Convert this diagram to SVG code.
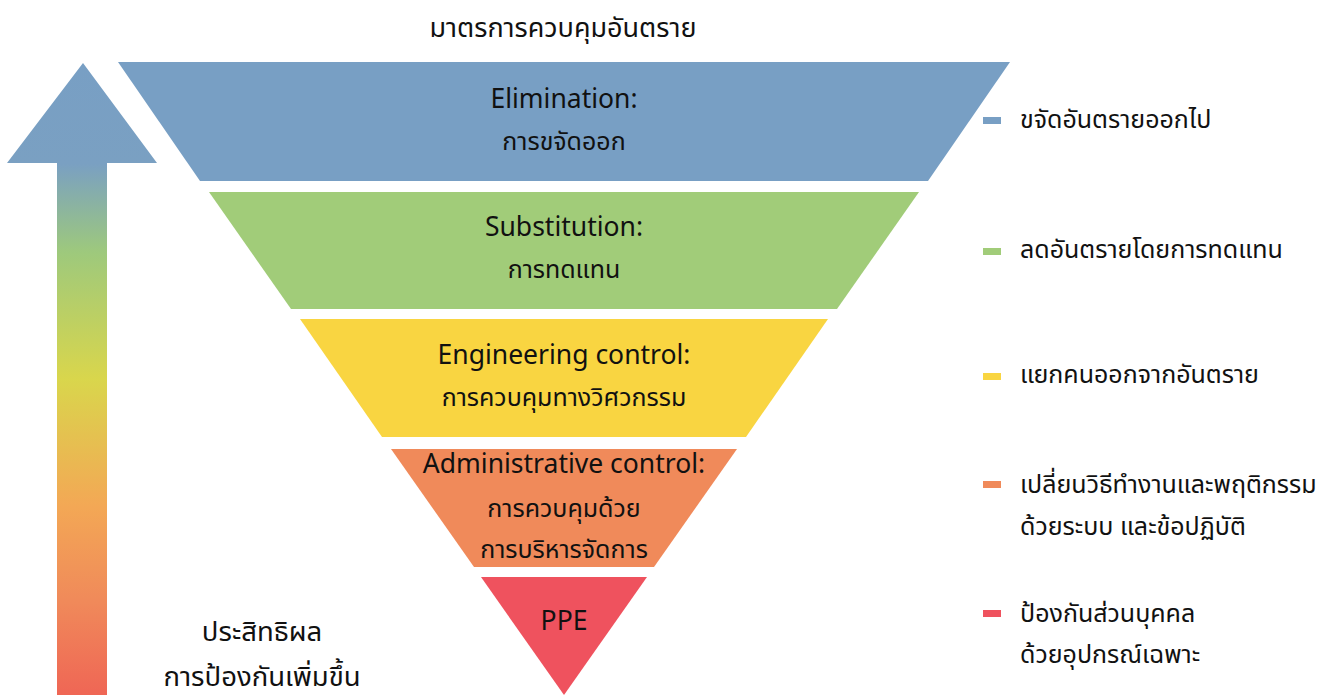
<svg xmlns="http://www.w3.org/2000/svg" width="1330" height="695" viewBox="0 0 1330 695">
  <style>
    text { font-family: "Noto Sans", "Noto Sans Thai", "Noto Sans CJK SC", sans-serif; fill: #111; }
    .lbl { font-size: 26.5px; text-anchor: middle; }
    .th { font-size: 25px; text-anchor: middle; }
    .eff { font-size: 27.5px; text-anchor: middle; }
    .leg { font-size: 25px; }
    .title { font-size: 27px; text-anchor: middle; }
  </style>
  <defs>
    <linearGradient id="arrowGrad" x1="0" y1="63" x2="0" y2="695" gradientUnits="userSpaceOnUse">
      <stop offset="0" stop-color="#789fc4"/>
      <stop offset="0.16" stop-color="#7aa0c2"/>
      <stop offset="0.30" stop-color="#9ec97c"/>
      <stop offset="0.50" stop-color="#d9d64c"/>
      <stop offset="0.70" stop-color="#f3a855"/>
      <stop offset="0.85" stop-color="#f08a5a"/>
      <stop offset="1" stop-color="#ef6655"/>
    </linearGradient>
  </defs>

  <rect width="1330" height="695" fill="#ffffff"/>

  <text class="title" x="563" y="37">มาตรการควบคุมอันตราย</text>

  <!-- effectiveness arrow -->
  <g id="arrow">
    <polygon points="83,63 157,163 107,163 107,695 57,695 57,163 7,163" fill="url(#arrowGrad)"/>
    <text class="eff" x="262" y="641">ประสิทธิผล</text>
    <text class="eff" x="262" y="686">การป้องกันเพิ่มขึ้น</text>
  </g>

  <!-- inverted pyramid tiers -->
  <g id="tier-elimination">
    <polygon points="118,62 1010,62 928,181 200,181" fill="#789fc4"/>
    <text class="lbl" x="564" y="108">Elimination:</text>
    <text class="th" x="564" y="150">การขจัดออก</text>
  </g>
  <g id="tier-substitution">
    <polygon points="209,192 919,192 837,309 291,309" fill="#a1cc79"/>
    <text class="lbl" x="564" y="236">Substitution:</text>
    <text class="th" x="564" y="278">การทดแทน</text>
  </g>
  <g id="tier-engineering">
    <polygon points="300,319 828,319 746,437 382,437" fill="#f9d541"/>
    <text class="lbl" x="564" y="364">Engineering control:</text>
    <text class="th" x="564" y="406">การควบคุมทางวิศวกรรม</text>
  </g>
  <g id="tier-administrative">
    <polygon points="391,449 737,449 654,567 474,567" fill="#f08a5a"/>
    <text class="lbl" x="564" y="473">Administrative control:</text>
    <text class="th" x="564" y="517">การควบคุมด้วย</text>
    <text class="th" x="564" y="558">การบริหารจัดการ</text>
  </g>
  <g id="tier-ppe">
    <polygon points="481,577 647,577 564,695" fill="#ef525e"/>
    <text class="lbl" x="564" y="630">PPE</text>
  </g>

  <!-- legend -->
  <g id="legend">
    <rect x="983" y="117" width="18" height="7" fill="#789fc4"/>
    <text class="leg" x="1020" y="128">ขจัดอันตรายออกไป</text>
    <rect x="983" y="248" width="18" height="7" fill="#a1cc79"/>
    <text class="leg" x="1020" y="258">ลดอันตรายโดยการทดแทน</text>
    <rect x="983" y="373" width="18" height="7" fill="#f9d541"/>
    <text class="leg" x="1020" y="383">แยกคนออกจากอันตราย</text>
    <rect x="983" y="481" width="18" height="7" fill="#f08a5a"/>
    <text class="leg" x="1020" y="493">เปลี่ยนวิธีทำงานและพฤติกรรม</text>
    <text class="leg" x="1020" y="535">ด้วยระบบ และข้อปฏิบัติ</text>
    <rect x="983" y="610" width="18" height="7" fill="#ef525e"/>
    <text class="leg" x="1020" y="622">ป้องกันส่วนบุคคล</text>
    <text class="leg" x="1020" y="663">ด้วยอุปกรณ์เฉพาะ</text>
  </g>
</svg>
